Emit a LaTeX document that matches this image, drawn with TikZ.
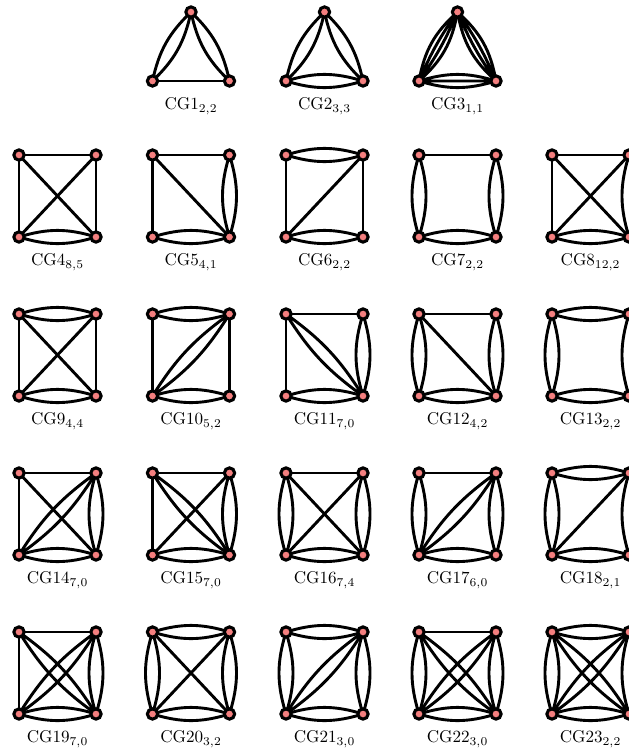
\documentclass[tikz,border=0pt]{standalone}
\usepackage{xcolor}
\usepackage{tikz}
\usetikzlibrary{positioning}
\definecolor{vtxfill}{HTML}{F47F7F}
\pgfdeclarelayer{edgelayer}
\pgfsetlayers{edgelayer,main}

% four vertices of a square graph and its caption
\newcommand{\sqgraph}[4]{%
  \node[vtx] (#1tl) at (#2,#3) {};
  \node[vtx] (#1tr) at (#2+77,#3) {};
  \node[vtx] (#1bl) at (#2,#3+82) {};
  \node[vtx] (#1br) at (#2+77,#3+82) {};
  \coordinate (#1base) at (#2+38.5,#3+82);
  \node[lbl, below=9.4pt of #1base] (#1lab) {#4};
}
% three vertices of a triangle graph and its caption
\newcommand{\trigraph}[4]{%
  \node[vtx] (#1t) at (#2+38.5,#3) {};
  \node[vtx] (#1l) at (#2,#3+69) {};
  \node[vtx] (#1r) at (#2+77,#3+69) {};
  \coordinate (#1base) at (#2+38.5,#3+69);
  \node[lbl, below=9.4pt of #1base] (#1lab) {#4};
}
% edges run centre to centre, under the vertices
\newcommand{\linkone}[2]{\begin{pgfonlayer}{edgelayer}
  \draw[edge] (#1.center) -- (#2.center);\end{pgfonlayer}}
\newcommand{\linktwo}[3][17]{\begin{pgfonlayer}{edgelayer}
  \draw[edge] (#2.center) to[bend left=#1] (#3.center) (#2.center) to[bend right=#1] (#3.center);\end{pgfonlayer}}
\newcommand{\linkthree}[3][17]{\begin{pgfonlayer}{edgelayer}
  \draw[edge] (#2.center) to[bend left=#1] (#3.center) (#2.center) -- (#3.center) (#2.center) to[bend right=#1] (#3.center);\end{pgfonlayer}}
\newcommand{\linkfour}[2]{\begin{pgfonlayer}{edgelayer}
  \draw[edge] (#1.center) to[bend left=19] (#2.center) (#1.center) to[bend left=6] (#2.center)
              (#1.center) to[bend right=6] (#2.center) (#1.center) to[bend right=19] (#2.center);\end{pgfonlayer}}

\begin{document}
\begin{tikzpicture}[
  x=0.585pt, y=-0.585pt,
  vtx/.style ={circle, draw=black, fill=vtxfill, line width=1.8pt, minimum size=6pt, inner sep=0pt},
  edge/.style={line width=1.7pt, black},
  lbl/.style ={font=\normalsize, inner sep=0pt},
]
  \path[use as bounding box] (0,0) rectangle (629,751);
  \clip (0,0) rectangle (629,751);

  % triangles
  \trigraph{cg1}{152.5}{12}{CG1$_{2,2}$}
  \linktwo{cg1t}{cg1l} \linktwo{cg1t}{cg1r} \linkone{cg1l}{cg1r}
  \trigraph{cg2}{286}{12}{CG2$_{3,3}$}
  \linktwo{cg2t}{cg2l} \linktwo{cg2t}{cg2r} \linktwo{cg2l}{cg2r}
  \trigraph{cg3}{419}{12}{CG3$_{1,1}$}
  \linkfour{cg3t}{cg3l} \linkfour{cg3t}{cg3r} \linkthree{cg3l}{cg3r}

  % first row of squares
  \sqgraph{cg4}{19}{155}{CG4$_{8,5}$}
  \linkone{cg4tl}{cg4tr} \linkone{cg4tl}{cg4bl} \linkone{cg4tr}{cg4br} \linktwo{cg4bl}{cg4br}
  \linkone{cg4tl}{cg4br} \linkone{cg4tr}{cg4bl}
  \sqgraph{cg5}{152.5}{155}{CG5$_{4,1}$}
  \linkone{cg5tl}{cg5tr} \linkone{cg5tl}{cg5bl} \linktwo{cg5tr}{cg5br} \linktwo{cg5bl}{cg5br}
  \linkone{cg5tl}{cg5br}
  \sqgraph{cg6}{286}{155}{CG6$_{2,2}$}
  \linktwo{cg6tl}{cg6tr} \linkone{cg6tl}{cg6bl} \linkone{cg6tr}{cg6br} \linktwo{cg6bl}{cg6br}
  \linkone{cg6bl}{cg6tr}
  \sqgraph{cg7}{419}{155}{CG7$_{2,2}$}
  \linkone{cg7tl}{cg7tr} \linktwo{cg7tl}{cg7bl} \linktwo{cg7tr}{cg7br} \linktwo{cg7bl}{cg7br}
  \sqgraph{cg8}{552}{155}{CG8$_{12,2}$}
  \linkone{cg8tl}{cg8tr} \linkone{cg8tl}{cg8bl} \linktwo{cg8tr}{cg8br} \linktwo{cg8bl}{cg8br}
  \linkone{cg8tl}{cg8br} \linkone{cg8tr}{cg8bl}

  % second row
  \sqgraph{cg9}{19}{314}{CG9$_{4,4}$}
  \linktwo{cg9tl}{cg9tr} \linkone{cg9tl}{cg9bl} \linkone{cg9tr}{cg9br} \linktwo{cg9bl}{cg9br}
  \linkone{cg9tl}{cg9br} \linkone{cg9tr}{cg9bl}
  \sqgraph{cg10}{152.5}{314}{CG10$_{5,2}$}
  \linktwo{cg10tl}{cg10tr} \linkone{cg10tl}{cg10bl} \linkone{cg10tr}{cg10br} \linktwo{cg10bl}{cg10br}
  \linktwo[11]{cg10bl}{cg10tr}
  \sqgraph{cg11}{286}{314}{CG11$_{7,0}$}
  \linkone{cg11tl}{cg11tr} \linkone{cg11tl}{cg11bl} \linktwo{cg11tr}{cg11br} \linktwo{cg11bl}{cg11br}
  \linktwo[11]{cg11tl}{cg11br}
  \sqgraph{cg12}{419}{314}{CG12$_{4,2}$}
  \linkone{cg12tl}{cg12tr} \linktwo{cg12tl}{cg12bl} \linktwo{cg12tr}{cg12br} \linktwo{cg12bl}{cg12br}
  \linkone{cg12tl}{cg12br}
  \sqgraph{cg13}{552}{314}{CG13$_{2,2}$}
  \linktwo{cg13tl}{cg13tr} \linktwo{cg13tl}{cg13bl} \linktwo{cg13tr}{cg13br} \linktwo{cg13bl}{cg13br}

  % third row
  \sqgraph{cg14}{19}{473}{CG14$_{7,0}$}
  \linkone{cg14tl}{cg14tr} \linkone{cg14tl}{cg14bl} \linktwo{cg14tr}{cg14br} \linktwo{cg14bl}{cg14br}
  \linkone{cg14tl}{cg14br} \linktwo[11]{cg14bl}{cg14tr}
  \sqgraph{cg15}{152.5}{473}{CG15$_{7,0}$}
  \linkone{cg15tl}{cg15tr} \linkone{cg15tl}{cg15bl} \linktwo{cg15tr}{cg15br} \linktwo{cg15bl}{cg15br}
  \linktwo[11]{cg15tl}{cg15br} \linkone{cg15bl}{cg15tr}
  \sqgraph{cg16}{286}{473}{CG16$_{7,4}$}
  \linkone{cg16tl}{cg16tr} \linktwo{cg16tl}{cg16bl} \linktwo{cg16tr}{cg16br} \linktwo{cg16bl}{cg16br}
  \linkone{cg16tl}{cg16br} \linkone{cg16tr}{cg16bl}
  \sqgraph{cg17}{419}{473}{CG17$_{6,0}$}
  \linkone{cg17tl}{cg17tr} \linktwo{cg17tl}{cg17bl} \linktwo{cg17tr}{cg17br} \linktwo{cg17bl}{cg17br}
  \linktwo[11]{cg17bl}{cg17tr}
  \sqgraph{cg18}{552}{473}{CG18$_{2,1}$}
  \linktwo{cg18tl}{cg18tr} \linktwo{cg18tl}{cg18bl} \linktwo{cg18tr}{cg18br} \linktwo{cg18bl}{cg18br}
  \linkone{cg18bl}{cg18tr}

  % fourth row
  \sqgraph{cg19}{19}{632}{CG19$_{7,0}$}
  \linkone{cg19tl}{cg19tr} \linkone{cg19tl}{cg19bl} \linktwo{cg19tr}{cg19br} \linktwo{cg19bl}{cg19br}
  \linktwo[11]{cg19tl}{cg19br} \linktwo[11]{cg19bl}{cg19tr}
  \sqgraph{cg20}{152.5}{632}{CG20$_{3,2}$}
  \linktwo{cg20tl}{cg20tr} \linktwo{cg20tl}{cg20bl} \linktwo{cg20tr}{cg20br} \linktwo{cg20bl}{cg20br}
  \linkone{cg20tl}{cg20br} \linkone{cg20tr}{cg20bl}
  \sqgraph{cg21}{286}{632}{CG21$_{3,0}$}
  \linktwo{cg21tl}{cg21tr} \linktwo{cg21tl}{cg21bl} \linktwo{cg21tr}{cg21br} \linktwo{cg21bl}{cg21br}
  \linktwo[11]{cg21bl}{cg21tr}
  \sqgraph{cg22}{419}{632}{CG22$_{3,0}$}
  \linkone{cg22tl}{cg22tr} \linktwo{cg22tl}{cg22bl} \linktwo{cg22tr}{cg22br} \linktwo{cg22bl}{cg22br}
  \linktwo[11]{cg22tl}{cg22br} \linktwo[11]{cg22bl}{cg22tr}
  \sqgraph{cg23}{552}{632}{CG23$_{2,2}$}
  \linktwo{cg23tl}{cg23tr} \linktwo{cg23tl}{cg23bl} \linktwo{cg23tr}{cg23br} \linktwo{cg23bl}{cg23br}
  \linktwo[11]{cg23tl}{cg23br} \linktwo[11]{cg23bl}{cg23tr}
\end{tikzpicture}
\end{document}
